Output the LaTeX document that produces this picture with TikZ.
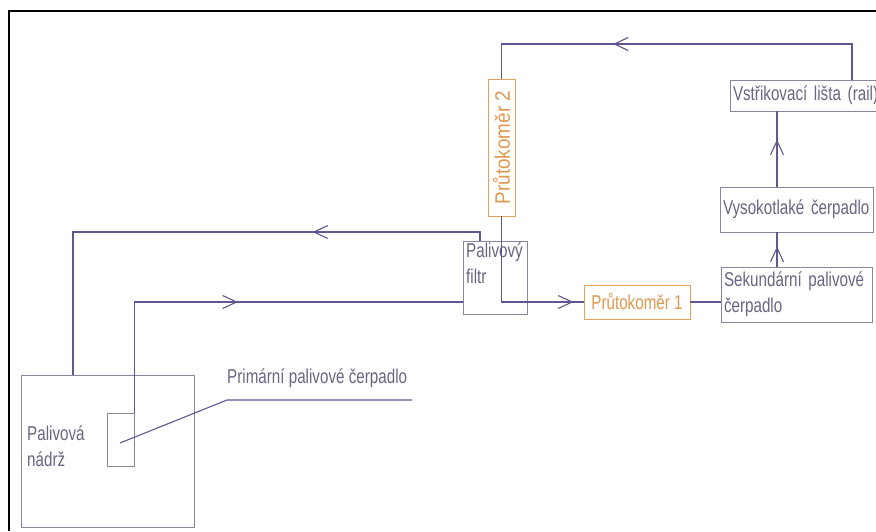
\documentclass[tikz,border=0pt]{standalone}
\usepackage{fontspec}
\newfontfamily\lblfont{Liberation Sans}[FakeStretch=0.76]
\newfontfamily\widefont{Liberation Sans}[FakeStretch=0.9]
\usetikzlibrary{arrows.meta,decorations.markings,calc}
\definecolor{linec}{HTML}{65558F}
\definecolor{boxc}{HTML}{8A849E}
\definecolor{txtc}{HTML}{6C6482}
\definecolor{orc}{HTML}{E6A05A}
\definecolor{ortxt}{HTML}{E0984E}
\tikzset{
  chev/.tip={Straight Barb[length=14pt,width=13pt]},
  boxnode/.style={draw=boxc, line width=0.9pt, inner xsep=3pt, inner ysep=0pt,
    text=txtc, align=left, font=\lblfont\fontsize{20}{26}\selectfont},
  plainbox/.style={draw=boxc, line width=0.9pt, inner sep=0pt},
  meter/.style={draw=orc, line width=0.9pt, inner sep=0pt, text=ortxt,
    font=\lblfont\fontsize{20}{26}\selectfont},
  lbl/.style={inner sep=0pt, text=txtc, align=left, font=\lblfont\fontsize{20}{26}\selectfont},
  pipe/.style={draw=linec, line width=1.1pt},
  flowat/.style={postaction={decorate, decoration={markings,
      mark=at position #1 with {\arrow{chev}}}}}
}
\begin{document}
\begin{tikzpicture}[x=1pt,y=-1pt]
\useasboundingbox (0,0) rectangle (876,531);
\fill[white] (0,0) rectangle (876,531);
\clip (0,0) rectangle (876,531);
\draw[black, line width=2.2pt] (9,531) -- (9,11) -- (876,11);

% boxes
\node[boxnode, text width=170pt, minimum height=31pt] (rail) at (818,95.5) {Vstřikovací lišta (rail)};
\node[boxnode, text width=147pt, minimum height=45pt] (vys) at (796.5,209.5) {Vysokotlaké čerpadlo};
\node[boxnode, text width=145pt, minimum height=55pt] (sek) at (796.5,294.5) {Sekundární palivové\\čerpadlo};
\node[meter, minimum width=106pt, minimum height=34pt] (pk1) at (637,302) {Průtokoměr 1};
\node[meter, minimum width=27pt, minimum height=137pt] (pk2) at (501.5,147.5) {};
\node[inner sep=0pt, text=ortxt, rotate=90, font=\widefont\fontsize{21}{26}\selectfont] (pk2t) at (pk2.center) {Průtokoměr 2};
\node[plainbox, minimum width=64pt, minimum height=73pt] (filt) at (495,277.5) {};
\node[lbl, anchor=north west] (filtt) at (466,243) {Palivový\\filtr};
\node[plainbox, minimum width=173pt, minimum height=152pt] (tank) at (107.5,451) {};
\node[lbl, anchor=west] (tankt) at (27,446) {Palivová\\nádrž};
\node[plainbox, minimum width=27pt, minimum height=53pt] (pump) at (120.5,439.5) {};
\node[lbl, anchor=south west] (pumpt) at (227,388) {Primární palivové čerpadlo};

% helper coordinates
\coordinate (railtop) at (852,80);
\coordinate (tl) at (501.5,44);
\coordinate (vx) at (777,0);
\coordinate (fx) at (480,232);
\coordinate (rt) at (73,232);
\coordinate (ld) at (227,400);
\coordinate (le) at (412,400);
\coordinate (ls) at (120,443);

% pipes
\draw[pipe, flowat=275pt] (railtop) |- (tl) -- (pk2.north);
\draw[pipe, flowat=157.5pt] (pk2.south) |- (pk1.west);
\draw[pipe] (pk1.east) -- (pk1.east -| sek.west);
\draw[pipe, flowat=20pt] (sek.north -| vx) -- (vys.south -| vx);
\draw[pipe, flowat=47pt] (vys.north -| vx) -- (rail.south -| vx);
\draw[pipe, flowat=176pt] (filt.north -| fx) -- (fx) -- (rt) -- (tank.north -| rt);
\draw[pipe, flowat=214pt] (pump.north east) |- (filt.west |- pk1.west);
\draw[pipe] (ls) -- (ld) -- (le);
\end{tikzpicture}
\end{document}
